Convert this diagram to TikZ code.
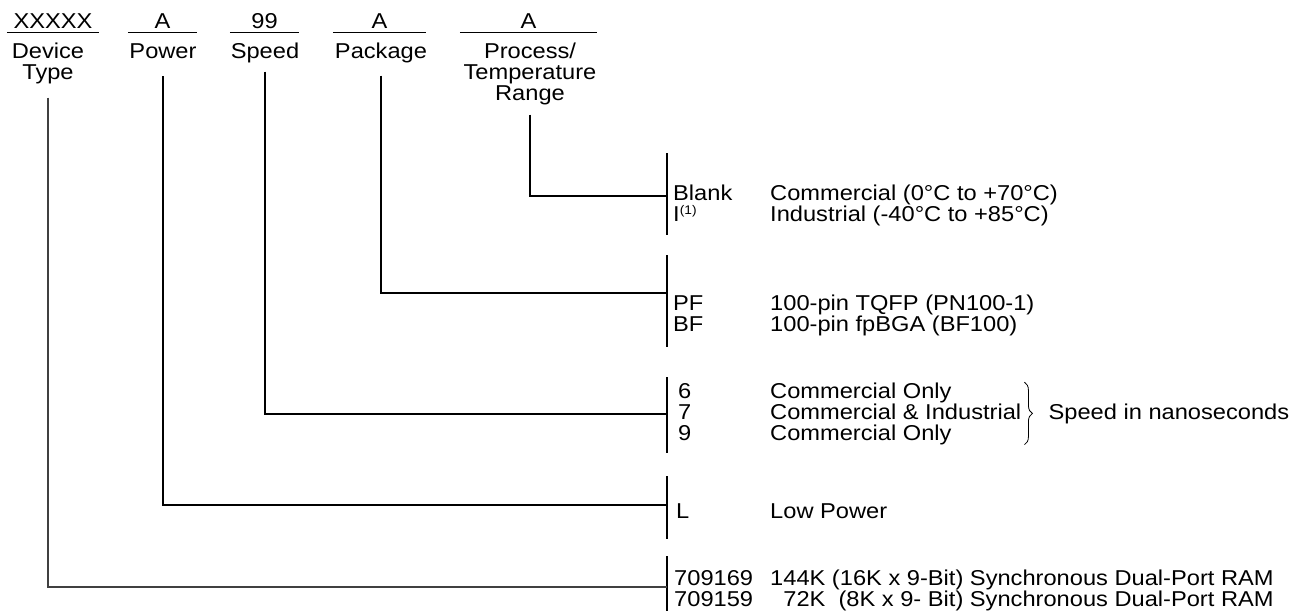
\documentclass[tikz,border=0pt]{standalone}
\usepackage{fontspec}
\setmainfont{Liberation Sans}[FakeStretch=1.10]
\usetikzlibrary{positioning, decorations.pathreplacing}

\begin{document}
\begin{tikzpicture}[x=1pt, y=-1pt,
  every node/.style={font=\fontsize{21.5}{21}\selectfont, inner sep=0pt},
  field/.style={anchor=base, text depth=4pt},
  head/.style={anchor=base, align=center},
  optcode/.style={anchor=base west, align=left},
  optdesc/.style={anchor=base west, align=left},
  wire/.style={line width=1.1pt}]
\useasboundingbox (0,0) rectangle (1297,611);

% part number fields
\node[field, minimum width=92] (dev) at (53,28) {XXXXX};
\node[field, minimum width=69] (pwr) at (162.5,28) {A};
\node[field, minimum width=69] (spd) at (264.5,28) {99};
\node[field, minimum width=93] (pkg) at (379.5,28) {A};
\node[field, minimum width=137] (tmp) at (528.5,28) {A};
\foreach \f in {dev,pwr,spd,pkg,tmp}
  \draw[line width=1.4pt] (\f.south west) -- (\f.south east);

% (multi-line nodes sit on their last baseline)
\node[head] (devh) at (48,79) {Device\\Type};
\node[head] (pwrh) at (163,58) {Power};
\node[head] (spdh) at (265,58) {Speed};
\node[head] (pkgh) at (381,58) {Package};
\node[head] (tmph) at (530,100) {Process/\\Temperature\\Range};

% option bars
\foreach \a/\b in {153/235, 255/347, 377/453, 476/539, 556/611}
  \draw[wire] (667,\a) -- (667,\b);
\coordinate (tmpbar) at (667,196);
\coordinate (pkgbar) at (667,293);
\coordinate (spdbar) at (667,414);
\coordinate (pwrbar) at (667,505);
\coordinate (devbar) at (667,587);

% options
\node[optcode] (tmpc) at (673,221) {Blank\\I\raisebox{6.5pt}{\fontsize{12.5}{12}\selectfont(1)}};
\node[optdesc] (tmpd) at (770,221) {Commercial (0°C to +70°C)\\Industrial (-40°C to +85°C)};
\node[optcode] (pkgc) at (673,331) {PF\\BF};
\node[optdesc] (pkgd) at (770,331) {100-pin TQFP (PN100-1)\\100-pin fpBGA (BF100)};
\node[optcode] (spdc) at (678,440) {6\\7\\9};
\node[optdesc] (spdd) at (770,440) {Commercial Only\\Commercial \& Industrial\\Commercial Only};
\node[optcode] (pwrc) at (676,518) {L};
\node[optdesc] (pwrd) at (770,518) {Low Power};
\node[optcode] (devc) at (674,606) {709169\\709159};
\node[optdesc] (devd) at (770,606) {144K (16K x 9-Bit) Synchronous Dual-Port RAM\\\phantom{1}72K\ \ (8K x 9- Bit) Synchronous Dual-Port RAM};

\draw[line width=0.8pt, decorate, decoration={brace, amplitude=8pt}]
  ([xshift=3pt]spdd.north east) -- ([xshift=3pt]spdd.south east);
\node[right=27pt of spdd.east] (nsec) {Speed in nanoseconds};

% field to option lines
\draw[wire] (tmph.south) ++(0,10) |- (tmpbar);
\draw[wire] (pkgh.south) ++(0,13) |- (pkgbar);
\draw[wire] (spdh.south) ++(0,9) |- (spdbar);
\draw[wire] (pwrh.south) ++(0,18) |- (pwrbar);
\draw[wire, line width=1.8pt, black!75] (devh.south) ++(0,14) |- (devbar);
\end{tikzpicture}
\end{document}
